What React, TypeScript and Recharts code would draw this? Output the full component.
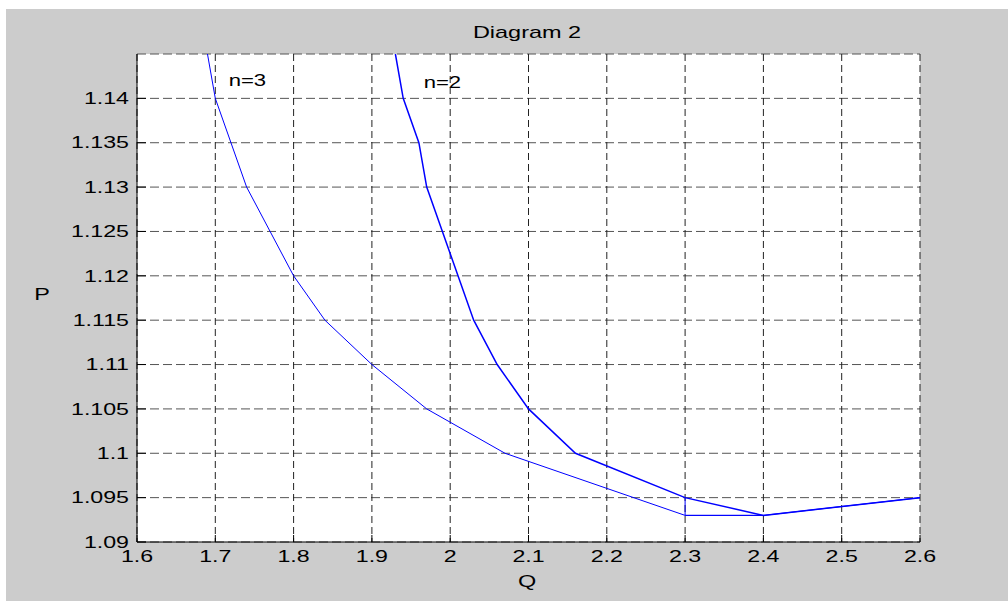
import {
  LineChart,
  Line,
  XAxis,
  YAxis,
  CartesianGrid,
  ReferenceDot,
} from 'recharts';

// axis ticks
const xTicks = [1.6, 1.7, 1.8, 1.9, 2.0, 2.1, 2.2, 2.3, 2.4, 2.5, 2.6];
const yTicks = [1.09, 1.095, 1.1, 1.105, 1.11, 1.115, 1.12, 1.125, 1.13, 1.135, 1.14];

// n=3 curve
const n3Q = [1.69, 1.7, 1.74, 1.8, 1.84, 1.9, 1.97, 2.07, 2.3, 2.4, 2.6];
const n3P = [1.145, 1.14, 1.13, 1.12, 1.115, 1.11, 1.105, 1.1, 1.093, 1.093, 1.095];

// n=2 curve
const n2Q = [1.93, 1.94, 1.96, 1.97, 2.03, 2.06, 2.1, 2.16, 2.3, 2.4, 2.6];
const n2P = [1.145, 1.14, 1.135, 1.13, 1.115, 1.11, 1.105, 1.1, 1.095, 1.093, 1.095];

// n=2 step tail
const n2StepQ = [2.3, 2.3, 2.4];
const n2StepP = [1.095, 1.093, 1.093];

const zip = (q: number[], p: number[]) => q.map((v, i) => ({ q: v, p: p[i] }));

const FONT = '"Liberation Sans", Arial, Helvetica, sans-serif';
const SX = 1.45;
const BLUE = '#0000ff';

const fmt = (v: number) => String(parseFloat(v.toFixed(3)));

function XTick(props: any) {
  const { x, y, payload } = props;
  return (
    <text
      transform={`translate(${x},${y}) scale(${SX},1)`}
      textAnchor="middle"
      dy="0.71em"
      fontSize={16}
      fontFamily={FONT}
      fill="#000"
    >
      {fmt(payload.value)}
    </text>
  );
}

function YTick(props: any) {
  const { x, y, payload } = props;
  return (
    <text
      transform={`translate(${x},${y}) scale(${SX},1)`}
      textAnchor="end"
      dy="0.355em"
      fontSize={16}
      fontFamily={FONT}
      fill="#000"
    >
      {fmt(payload.value)}
    </text>
  );
}

const noTick = () => <g />;

function Caption({ x, y, text, size = 17 }: { x: number; y: number; text: string; size?: number }) {
  return (
    <text
      transform={`translate(${x},${y}) scale(1.38,1)`}
      textAnchor="middle"
      fontSize={size}
      fontFamily={FONT}
      fill="#000"
    >
      {text}
    </text>
  );
}

const note = (text: string) => (p: any) => (
  <Caption x={p.viewBox.x} y={p.viewBox.y} text={text} size={16} />
);

export default function App() {
  return (
    <div style={{ position: 'absolute', left: 0, top: 0, width: 1008, height: 601, background: '#fff' }}>
      <div style={{ position: 'absolute', left: 6, top: 9, width: 1002, height: 592, background: '#cccccc' }} />
      <div style={{ position: 'absolute', left: 0, top: 0 }}>
        <LineChart width={1008} height={601} margin={{ top: 54, right: 88, bottom: 29, left: 77 }}>
          <CartesianGrid
            xAxisId="b"
            yAxisId="l"
            horizontal
            vertical={false}
            stroke="#555"
            strokeDasharray="9 4"
            fill="#fff"
            fillOpacity={1}
          />
          <CartesianGrid
            xAxisId="b"
            yAxisId="l"
            horizontal={false}
            vertical
            stroke="#222"
            strokeDasharray="7 4"
          />
          <XAxis
            xAxisId="b"
            type="number"
            dataKey="q"
            domain={[1.6, 2.6]}
            ticks={xTicks}
            interval={0}
            height={30}
            tickSize={-7}
            tickMargin={16}
            tick={XTick}
            stroke="#000"
            allowDataOverflow
          />
          <XAxis
            xAxisId="t"
            orientation="top"
            type="number"
            dataKey="q"
            domain={[1.6, 2.6]}
            ticks={xTicks}
            interval={0}
            height={0}
            tickSize={-7}
            tick={noTick}
            stroke="#000"
            allowDataOverflow
          />
          <YAxis
            yAxisId="l"
            type="number"
            dataKey="p"
            domain={[1.09, 1.145]}
            ticks={yTicks}
            interval={0}
            width={60}
            tickSize={-9}
            tickMargin={17}
            tick={YTick}
            stroke="#000"
            allowDataOverflow
          />
          <YAxis
            yAxisId="r"
            orientation="right"
            type="number"
            dataKey="p"
            domain={[1.09, 1.145]}
            ticks={yTicks}
            interval={0}
            width={0}
            tickSize={-9}
            tick={noTick}
            stroke="#000"
            allowDataOverflow
          />
          <Line
            xAxisId="b"
            yAxisId="l"
            data={zip(n3Q, n3P)}
            dataKey="p"
            type="linear"
            stroke={BLUE}
            strokeWidth={1}
            dot={false}
            isAnimationActive={false}
          />
          <Line
            xAxisId="b"
            yAxisId="l"
            data={zip(n2Q, n2P)}
            dataKey="p"
            type="linear"
            stroke={BLUE}
            strokeWidth={1.5}
            dot={false}
            isAnimationActive={false}
          />
          <Line
            xAxisId="b"
            yAxisId="l"
            data={zip(n2StepQ, n2StepP)}
            dataKey="p"
            type="linear"
            stroke={BLUE}
            strokeWidth={1}
            dot={false}
            isAnimationActive={false}
          />
          <ReferenceDot xAxisId="b" yAxisId="l" x={1.741} y={1.1414} r={0} stroke="none" label={note('n=3')} />
          <ReferenceDot xAxisId="b" yAxisId="l" x={1.99} y={1.1412} r={0} stroke="none" label={note('n=2')} />
          <Caption x={527} y={38} text="Diagram 2" />
          <Caption x={527} y={587} text="Q" />
          <Caption x={42} y={300} text="P" />
        </LineChart>
      </div>
    </div>
  );
}
